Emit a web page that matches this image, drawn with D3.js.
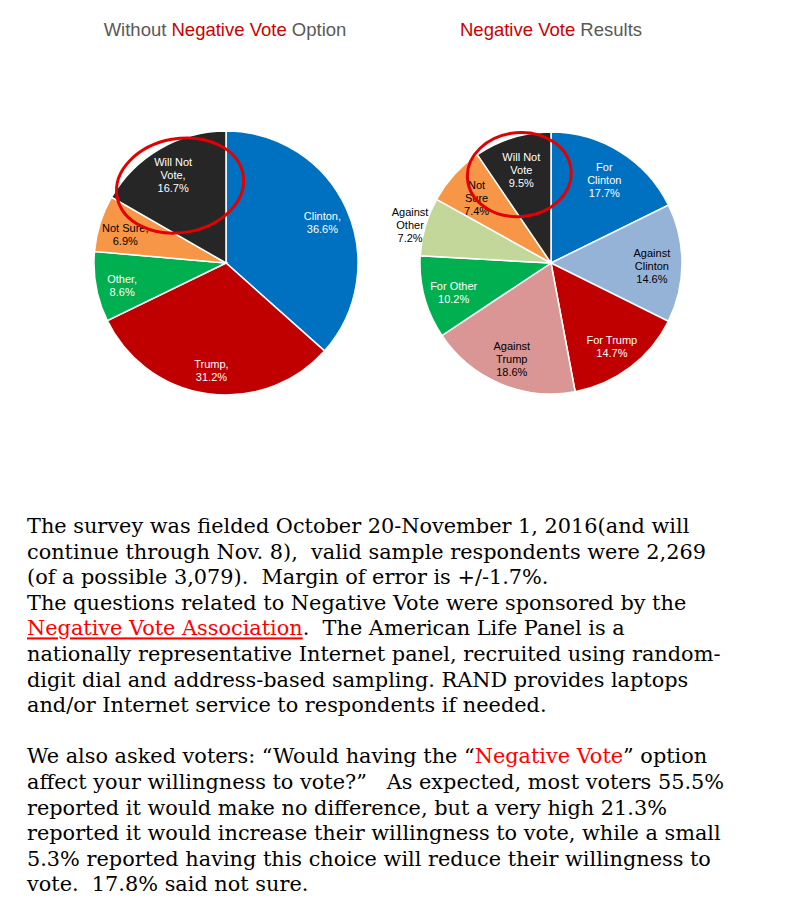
<!DOCTYPE html>
<html>
<head>
<meta charset="utf-8">
<script src="https://cdn.jsdelivr.net/npm/d3@7"></script>
<style>
  html, body { margin: 0; padding: 0; background: #fff; }
  svg { display: block; }
  text { white-space: pre; }
</style>
</head>
<body>
<svg id="chart" width="794" height="913"></svg>
<script>
// ---------- data ----------
const leftCategories = ["Clinton", "Trump", "Other", "Not Sure", "Will Not Vote"];
const leftValues = [36.6, 31.2, 8.6, 6.9, 16.7];
const leftLabelNames = [["Clinton,"], ["Trump,"], ["Other,"], ["Not Sure,"], ["Will Not", "Vote,"]];

const rightCategories = ["For Clinton", "Against Clinton", "For Trump", "Against Trump",
  "For Other", "Against Other", "Not Sure", "Will Not Vote"];
const rightValues = [17.7, 14.6, 14.7, 18.6, 10.2, 7.2, 7.4, 9.5];
const rightLabelNames = [["For", "Clinton"], ["Against", "Clinton"], ["For Trump"], ["Against", "Trump"],
  ["For Other"], ["Against", "Other"], ["Not", "Sure"], ["Will Not", "Vote"]];
const rightOutsideLabels = ["Against Other"];

const highlightCategory = "Will Not Vote";

const titleLeft = [["Without ", false], ["Negative Vote", true], [" Option", false]];
const titleRight = [["Negative Vote", true], [" Results", false]];

const paragraphLines = [
  [["The survey was fielded October 20-November 1, 2016(and will", 0]],
  [["continue through Nov. 8),  valid sample respondents were 2,269", 0]],
  [["(of a possible 3,079).  Margin of error is +/-1.7%.", 0]],
  [["The questions related to Negative Vote were sponsored by the", 0]],
  [["Negative Vote Association", 2], [".  The American Life Panel is a", 0]],
  [["nationally representative Internet panel, recruited using random-", 0]],
  [["digit dial and address-based sampling. RAND provides laptops", 0]],
  [["and/or Internet service to respondents if needed.", 0]],
  [],
  [["We also asked voters: \u201cWould having the \u201c", 0], ["Negative Vote", 1], ["\u201d option", 0]],
  [["affect your willingness to vote?\u201d   As expected, most voters 55.5%", 0]],
  [["reported it would make no difference, but a very high 21.3%", 0]],
  [["reported it would increase their willingness to vote, while a small", 0]],
  [["5.3% reported having this choice will reduce their willingness to", 0]],
  [["vote.  17.8% said not sure.", 0]]
];

// ---------- styles ----------
const colorMap = {
  "Clinton": "#0070C0", "For Clinton": "#0070C0",
  "Against Clinton": "#95B3D7",
  "Trump": "#C00000", "For Trump": "#C00000",
  "Against Trump": "#D99694",
  "Other": "#00B050", "For Other": "#00B050",
  "Against Other": "#C4D79B",
  "Not Sure": "#F79646",
  "Will Not Vote": "#262626"
};
const darkText = new Set(["Not Sure", "Against Clinton", "Against Trump", "Against Other"]);

const svg = d3.select("#chart");

function drawPie(opts) {
  const { categories, values, names, cx, cy, r, labelK, outside, ell } = opts;
  const data = categories.map((c, i) => ({ cat: c, value: values[i], names: names[i] }));
  const pie = d3.pie().value(d => d.value).sort(null);
  const arcs = pie(data);
  const arc = d3.arc().innerRadius(0).outerRadius(r);
  const labelArc = d3.arc().innerRadius(r * labelK).outerRadius(r * labelK);
  const outArc = d3.arc().innerRadius(r * 1.12).outerRadius(r * 1.12);
  const g = svg.append("g").attr("transform", `translate(${cx},${cy})`);

  g.selectAll("path.slice").data(arcs).join("path")
    .attr("class", "slice")
    .attr("d", arc)
    .attr("fill", d => colorMap[d.data.cat])
    .attr("stroke", "#fff")
    .attr("stroke-width", 1.5);

  const lineH = 13;
  const lab = g.selectAll("text.lab").data(arcs).join("text")
    .attr("class", "lab")
    .attr("font-family", "Arial, 'Liberation Sans', sans-serif")
    .attr("font-size", 11)
    .attr("text-anchor", "middle")
    .attr("fill", d => (darkText.has(d.data.cat) || outside.includes(d.data.cat)) ? "#000" : "#fff")
    .attr("transform", d => {
      const c = outside.includes(d.data.cat) ? outArc.centroid(d) : labelArc.centroid(d);
      return `translate(${c[0]},${c[1] + 3})`;
    });
  lab.each(function(d) {
    const lines = d.data.names.concat([d3.format(".1f")(d.data.value) + "%"]);
    const t = d3.select(this);
    const y0 = -(lines.length - 1) * lineH / 2 + 4;
    lines.forEach((ln, i) => {
      t.append("tspan").attr("x", 0).attr("y", y0 + i * lineH).text(ln);
    });
  });

  // highlight ellipse around the "Will Not Vote" label
  const hl = arcs.find(d => d.data.cat === highlightCategory);
  const hc = labelArc.centroid(hl);
  g.append("ellipse")
    .attr("transform", `translate(${hc[0] + ell.dx},${hc[1] + ell.dy}) rotate(${ell.rot})`)
    .attr("rx", ell.rx).attr("ry", ell.ry)
    .attr("fill", "none")
    .attr("stroke", "#E30000")
    .attr("stroke-width", 3);
}

drawPie({ categories: leftCategories, values: leftValues, names: leftLabelNames,
  cx: 226, cy: 263, r: 132, labelK: 0.8, outside: [],
  ell: { dx: 7, dy: 14, rx: 64, ry: 47, rot: -10 } });
drawPie({ categories: rightCategories, values: rightValues, names: rightLabelNames,
  cx: 551, cy: 263, r: 131, labelK: 0.77, outside: rightOutsideLabels,
  ell: { dx: -2, dy: 8, rx: 52, ry: 42, rot: -5 } });

// titles
function drawTitle(parts, x, y) {
  const t = svg.append("text")
    .attr("x", x).attr("y", y)
    .attr("text-anchor", "middle")
    .attr("font-family", "Arial, 'Liberation Sans', sans-serif")
    .attr("font-size", 18.5);
  parts.forEach(p => t.append("tspan").attr("fill", p[1] ? "#CC0000" : "#595959").text(p[0]));
}
drawTitle(titleLeft, 225, 36);
drawTitle(titleRight, 551, 36);

// paragraph text
const pg = svg.append("g")
  .attr("font-family", "'DejaVu Serif', 'Liberation Serif', serif")
  .attr("font-size", 19);
const x0 = 27, yBase = 533, lh = 25.6;
const texts = [];
paragraphLines.forEach((segs, i) => {
  if (!segs.length) return;
  const t = pg.append("text").attr("x", x0).attr("y", yBase + i * lh);
  segs.forEach(s => {
    const sp = t.append("tspan").text(s[0]).attr("fill", s[1] ? "#FF0000" : "#000");
    if (s[1] === 2) sp.attr("text-decoration", "underline");
  });
  texts.push(t);
});
// fit font size so the first line spans the same width as the reference
const w0 = texts[0].node().getComputedTextLength();
const fs = 19 * 663 / w0;
pg.attr("font-size", fs);
</script>
</body>
</html>
